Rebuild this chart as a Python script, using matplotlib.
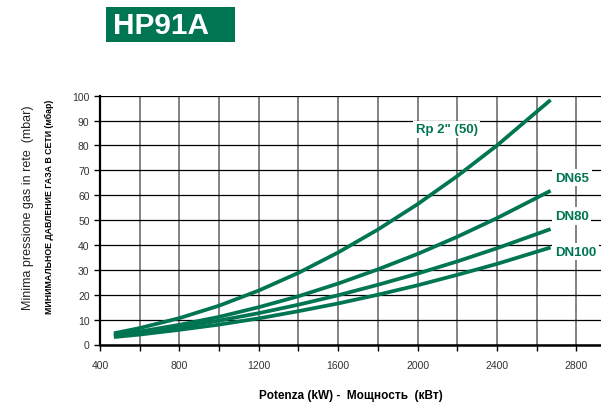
import numpy as np
import matplotlib.pyplot as plt

# Data (power kW -> min gas pressure mbar)
power = [470, 600, 800, 1000, 1200, 1400, 1600, 1800, 2000, 2200, 2400, 2670]
rp2 = [4.5, 6.6, 10.6, 15.6, 21.7, 28.8, 37.0, 46.2, 56.4, 67.7, 80.0, 98.3]
dn65 = [3.8, 5.2, 7.9, 11.1, 15.0, 19.4, 24.5, 30.2, 36.4, 43.3, 50.8, 61.8]
dn80 = [3.3, 4.6, 6.9, 9.6, 12.6, 16.0, 19.8, 24.0, 28.5, 33.4, 38.7, 46.4]
dn100 = [3.0, 4.0, 5.9, 8.0, 10.5, 13.4, 16.5, 20.0, 23.8, 28.0, 32.4, 39.0]

series = {
    'Rp 2" (50)': rp2,
    "DN65": dn65,
    "DN80": dn80,
    "DN100": dn100,
}
label_pos = {
    'Rp 2" (50)': (2146, 86.5, "center"),
    "DN65": (2692, 67.1, "left"),
    "DN80": (2692, 51.7, "left"),
    "DN100": (2692, 37.3, "left"),
}

green = "#007552"

plt.rcParams["font.family"] = ["Liberation Sans", "DejaVu Sans"]

fig = plt.figure(figsize=(6.01, 4.06), dpi=100)
ax = fig.add_axes([100 / 601, 60.5 / 406, 501 / 601, 248.8 / 406])

for name, vals in series.items():
    ax.plot(power, vals, color=green, linewidth=2.7, solid_capstyle="butt",
            solid_joinstyle="round", zorder=3)
    x, y, ha = label_pos[name]
    ax.text(x, y, name, color=green, fontsize=9.5, fontweight="bold",
            ha=ha, va="center", zorder=4,
            bbox=dict(facecolor="white", edgecolor="none", pad=2))

ax.set_xlim(400, 2924)
ax.set_ylim(0, 100)
ax.set_xticks(np.arange(400, 2801, 400))
ax.set_xticks(np.arange(400, 2924, 200), minor=True)
ax.set_yticks(np.arange(0, 101, 10))

ax.grid(True, axis="x", which="both", color="#7a7a7a", linewidth=1.3, zorder=1)
ax.grid(True, axis="y", color="black", linewidth=0.9, zorder=1)
ax.set_axisbelow(True)

for s in ["top", "right"]:
    ax.spines[s].set_visible(False)
ax.spines["left"].set_linewidth(1.6)
ax.spines["bottom"].set_linewidth(1.8)

ax.tick_params(axis="both", which="major", direction="out", length=4,
               width=1, labelsize=7.5, labelcolor="#333333")
ax.tick_params(axis="x", which="minor", direction="out", length=4, width=1)
ax.tick_params(axis="x", pad=7)

ax.set_xlabel("Potenza (kW) -  Мощность  (кВт)", fontsize=8.5,
              fontweight="bold", labelpad=14)

fig.text(28 / 601, 1 - 208 / 406, "Minima pressione gas in rete  (mbar)",
         rotation=90, ha="center", va="center", fontsize=9, color="#222222")
fig.text(49 / 601, 1 - 207 / 406, "МИНИМАЛЬНОЕ ДАВЛЕНИЕ ГАЗА В СЕТИ (мбар)",
         rotation=90, ha="center", va="center", fontsize=6.3, fontweight="bold",
         family=["Liberation Sans Narrow", "Liberation Sans", "DejaVu Sans"])

# title badge
fig.patches.append(plt.Rectangle((105.7 / 601, 1 - 42.7 / 406), 129 / 601, 34.7 / 406,
                                 transform=fig.transFigure, facecolor=green,
                                 edgecolor="none"))
fig.text(113 / 601, 1 - 25.5 / 406, "HP91A", color="white", fontsize=21.5,
         fontweight="bold", ha="left", va="center")

fig.savefig("out.png", dpi=100)
